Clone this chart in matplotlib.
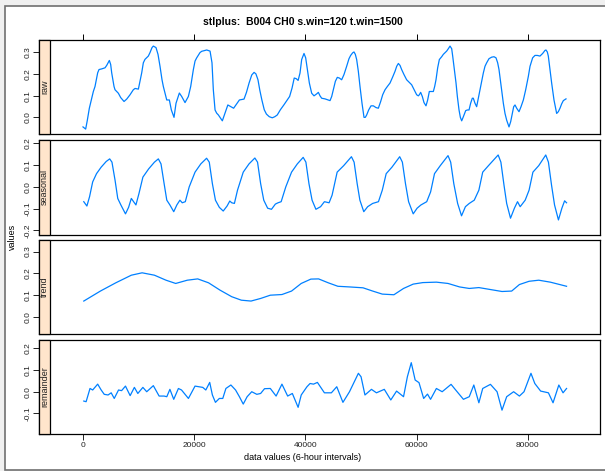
import matplotlib
matplotlib.use("Agg")
import matplotlib.pyplot as plt
from matplotlib.patches import Rectangle

plt.rcParams['font.family'] = ['Liberation Sans', 'DejaVu Sans']

# values (x in 6-hour intervals)
raw_x = [0, 480, 780, 1140, 1560, 1860, 2160, 2640, 2880, 3360, 3960, 4260, 4740, 4980, 5160,
         5580, 5760, 6360, 6780, 7380, 7860, 8460, 9050, 9360, 9960, 10560, 10850, 11150, 11750,
         12050, 12410, 12650, 13130, 13490, 13850, 14210, 14450, 15060, 15530, 15890, 16370,
         16730, 17330, 17750, 18350, 18950, 19370, 19850, 20150, 20450, 21040, 21350, 22250,
         22850, 23200, 23440, 23750, 24050, 24350, 25060, 26050, 27090, 28130, 28960, 29400,
         29870, 30350, 30770, 31100, 31470, 31800, 32170, 32600, 32990, 33500, 34040, 34500,
         34940, 35500, 36120, 36600, 37160, 37600, 37990, 38350, 38690,
         39030, 39330, 39750, 40050, 40350, 40710, 41130, 41550, 42030, 42330, 42630, 42930,
         43530, 44130, 44430, 44730, 45030, 45390, 45740, 46100, 46520, 46940, 47420, 47840,
         48140, 48500, 48740, 48980, 49220, 49520, 49820, 50180, 50540, 50780, 51020, 51380,
         51800, 52220, 52700, 53120, 53540, 53900, 54320, 54740, 55220, 55700, 56120, 56420,
         56720, 57020, 57310, 57730, 58210, 58690, 59110, 59410, 59710, 60010, 60310, 60490,
         60730, 61030, 61330, 61690, 61990, 62290, 62710, 63010, 63250, 63490, 63790, 64090,
         64510, 64810, 65410, 65710, 66010, 66310, 66490, 66790, 67090, 67330, 67630, 67870,
         68110, 68410, 68830, 69130, 69430, 69720, 70020, 70200, 70500, 70800, 71100, 71400,
         71700, 72000, 72300, 72600, 73020, 73500, 73920, 74280, 74580, 74820, 75060, 75300,
         75600, 75900, 76200, 76620, 76920, 77220, 77460, 77700, 78000, 78420, 78780, 79200,
         79620, 80100, 80400, 80870, 81290, 81710, 82190, 82670, 83090, 83270, 83510, 83690,
         83990, 84290, 84710, 85190, 85490, 85790, 86090, 86390, 86870]
raw_y = [-0.044, -0.054, -0.013, 0.042, 0.088, 0.119, 0.142, 0.205, 0.220, 0.223, 0.228, 0.239,
         0.262, 0.243, 0.205, 0.142, 0.127, 0.111, 0.091, 0.073, 0.084, 0.104, 0.127, 0.133,
         0.130, 0.205, 0.251, 0.267, 0.282, 0.298, 0.321, 0.328, 0.321, 0.290, 0.235, 0.173,
         0.142, 0.080, 0.080, 0.034, 0.000, 0.065, 0.112, 0.096, 0.068, 0.096, 0.142, 0.220,
         0.259, 0.274, 0.298, 0.304, 0.310, 0.305, 0.251, 0.127, 0.034, 0.019, 0.011, -0.016,
         0.057, 0.042, 0.080, 0.084, 0.115, 0.158, 0.195, 0.207, 0.200, 0.173, 0.125, 0.080,
         0.035, 0.015, 0.003, -0.002, 0.003, 0.011, 0.035, 0.057, 0.075, 0.096, 0.135, 0.181,
         0.178, 0.170,
         0.204, 0.266, 0.294, 0.274, 0.220, 0.158, 0.111, 0.099, 0.108, 0.115, 0.099, 0.088,
         0.085, 0.080, 0.077, 0.096, 0.127, 0.166, 0.184, 0.181, 0.173, 0.197, 0.235, 0.270,
         0.285, 0.297, 0.301, 0.290, 0.266, 0.212, 0.142, 0.065, 0.000, 0.000, 0.011, 0.034,
         0.053, 0.053, 0.045, 0.042, 0.073, 0.104, 0.127, 0.142, 0.158, 0.186, 0.212, 0.235,
         0.248, 0.239, 0.220, 0.197, 0.173, 0.161, 0.150, 0.135, 0.119, 0.104, 0.099, 0.104,
         0.115, 0.096, 0.068, 0.053, 0.080, 0.119, 0.119, 0.119, 0.142, 0.173, 0.228, 0.266,
         0.279, 0.290, 0.305, 0.316, 0.328, 0.316, 0.282, 0.220, 0.158, 0.096, 0.034, 0.000,
         -0.016, 0.003, 0.031, 0.034, 0.034, 0.065, 0.088, 0.088, 0.065, 0.049, 0.088, 0.127,
         0.166, 0.204, 0.235, 0.251, 0.270, 0.277, 0.279, 0.274, 0.251, 0.220, 0.173, 0.127,
         0.065, 0.018, -0.013, -0.044, -0.020, 0.018, 0.049, 0.057, 0.042, 0.026, 0.049, 0.080,
         0.127, 0.189, 0.235, 0.274, 0.285, 0.285, 0.282, 0.294, 0.308, 0.310, 0.301, 0.282,
         0.220, 0.158, 0.080, 0.018, 0.026, 0.042, 0.062, 0.077, 0.085]

seasonal_x = [140, 700, 1180, 1740, 2430, 3270, 4170, 4800, 5210, 5770, 6250, 6810, 7640, 8200,
              8690, 9100, 9520, 10070, 10770, 11810, 12850, 13550, 14030, 14590, 15070, 15630,
              16320, 16880, 17430, 17850, 18400, 19100, 20150, 21190, 22230, 22710, 23270,
              23820, 24520, 25220, 25910, 26400, 26750, 27230, 27790, 28820, 29860, 30910,
              31390, 31950, 32510, 33210, 33900, 34600, 35080, 35640, 36470, 37510, 38550,
              39600, 40090, 40640, 41200, 41890, 42730, 43420, 44260, 44800, 45710, 46890,
              48280, 48760, 49310, 49800, 50500, 51200, 52100, 53140, 53830, 54530, 55570,
              56960, 57440, 58000, 58560, 59390, 60090, 60780, 61820, 62520, 63220, 64260,
              65650, 66130, 66690, 67380, 68080, 68780, 69470, 70370, 71200, 71890, 72930,
              74670, 75160, 75720, 76200, 76890, 77590, 78150, 78630, 79530, 80230, 80920,
              81970, 83230, 83710, 84270, 84810, 85510, 86130, 86620, 86970]
seasonal_y = [-0.068, -0.088, -0.045, 0.023, 0.061, 0.091, 0.117, 0.129, 0.114, 0.030, -0.053,
              -0.083, -0.124, -0.094, -0.053, -0.068, -0.083, -0.030, 0.045, 0.083, 0.114,
              0.129, 0.106, 0.015, -0.061, -0.083, -0.114, -0.083, -0.061, -0.073, -0.068,
              0.000, 0.068, 0.106, 0.132, 0.114, 0.015, -0.061, -0.094, -0.111, -0.088, -0.065,
              -0.073, -0.076, -0.015, 0.068, 0.106, 0.133, 0.114, 0.015, -0.061, -0.098,
              -0.103, -0.079, -0.073, -0.068, 0.000, 0.068, 0.106, 0.136, 0.114, 0.015,
              -0.061, -0.103, -0.091, -0.068, -0.073, -0.038, 0.068, 0.098, 0.139, 0.114,
              0.015, -0.061, -0.114, -0.091, -0.076, -0.068, -0.015, 0.061, 0.091, 0.139,
              0.114, 0.015, -0.068, -0.124, -0.098, -0.083, -0.068, -0.023, 0.061, 0.098,
              0.144, 0.114, 0.015, -0.076, -0.133, -0.091, -0.076, -0.061, -0.015, 0.068,
              0.098, 0.147, 0.114, 0.008, -0.076, -0.144, -0.098, -0.068, -0.091, -0.061,
              -0.015, 0.068, 0.098, 0.147, 0.114, 0.008, -0.083, -0.152, -0.098, -0.064,
              -0.073]

trend_x = [140, 3130, 5900, 8690, 10630, 12850, 14930, 16670, 18760, 20630, 22580, 24660,
           26750, 28480, 30220, 31950, 33690, 35780, 37510, 39250, 40980, 42370, 44110, 45840,
           47930, 50360, 52100, 53830, 55920, 57650, 59390, 61130, 63560, 65650, 67730, 69470,
           71200, 73280, 75360, 77100, 78490, 80230, 81970, 84050, 86970]
trend_y = [0.072, 0.118, 0.156, 0.191, 0.202, 0.191, 0.168, 0.153, 0.168, 0.174, 0.156, 0.122,
           0.092, 0.076, 0.072, 0.084, 0.099, 0.102, 0.118, 0.153, 0.173, 0.174, 0.156, 0.140,
           0.137, 0.133, 0.118, 0.104, 0.101, 0.130, 0.150, 0.157, 0.159, 0.153, 0.137, 0.130,
           0.134, 0.125, 0.116, 0.118, 0.148, 0.163, 0.168, 0.159, 0.140]

remainder_x = [140, 560, 1260, 1740, 2640, 3270, 3820, 4510, 5070, 5620, 6390, 6940, 7640, 8480,
               9240, 9860, 10770, 11460, 12650, 13690, 14590, 15070, 15630, 16320, 17160,
               17720, 18960, 20150, 21540, 22090, 22790, 23270, 23820, 24520, 25140, 25700,
               26600, 27440, 28130, 28820, 29520, 30350, 31260, 31950, 32650, 33690, 34730,
               35780, 36810, 37650, 38690, 39250, 40280, 40840, 41460, 42160, 43420, 44670,
               45640, 46750, 47930, 49530, 50010, 50710, 51880, 52780, 54190, 55360, 56400,
               57650, 58340, 59040, 59740, 60430, 61270, 61960, 62510, 63560, 64600, 66200,
               67030, 68420, 69470, 70290, 71200, 71890, 73280, 74470, 75360, 76200, 77450,
               78490, 79320, 80570, 81260, 82310, 83710, 84540, 85580, 86340, 86970]
remainder_y = [-0.043, -0.046, 0.015, 0.008, 0.035, 0.008, -0.012, -0.015, -0.005, -0.031,
               0.008, 0.005, 0.026, -0.018, 0.020, -0.008, 0.020, 0.000, 0.028, -0.020, -0.020,
               -0.023, 0.011, -0.035, 0.015, 0.008, -0.031, 0.026, 0.020, 0.008, 0.043, -0.015,
               -0.049, -0.031, -0.031, 0.015, 0.031, 0.008, -0.023, -0.057, -0.023, 0.000,
               -0.012, -0.008, 0.014, 0.015, -0.020, 0.035, -0.020, -0.008, -0.072, -0.015,
               0.023, 0.038, 0.035, 0.043, -0.005, -0.005, 0.023, -0.049, 0.000, 0.085, 0.069,
               -0.015, 0.011, -0.005, 0.011, -0.038, 0.003, -0.023, 0.069, 0.134, 0.054, 0.042,
               -0.031, -0.011, -0.035, 0.015, 0.000, 0.034, 0.008, -0.035, -0.023, 0.031,
               -0.051, 0.015, 0.034, 0.000, -0.085, -0.023, 0.000, -0.020, 0.000, 0.085, 0.038,
               0.003, -0.005, -0.051, 0.031, -0.005, 0.015]

panel_names = ["raw", "seasonal", "trend", "remainder"]
panel_ylims = [(-0.078, 0.356), (-0.219, 0.215), (-0.081, 0.353), (-0.195, 0.240)]
panel_yticks = [[0.0, 0.1, 0.2, 0.3], [-0.2, -0.1, 0.0, 0.1, 0.2],
                [0.0, 0.1, 0.2, 0.3], [-0.1, 0.0, 0.1, 0.2]]
x_ticks = [0, 20000, 40000, 60000, 80000]
series = [(raw_x, raw_y), (seasonal_x, seasonal_y), (trend_x, trend_y), (remainder_x, remainder_y)]

W, H = 605, 471
fig = plt.figure(figsize=(W / 100, H / 100), dpi=100)
fig.patch.set_facecolor('#f0f0f0')
# white page with grey border, like the reference screenshot
fig.patches.append(Rectangle((4.5 / W, 1 - 470 / H), 1.2, (470 - 5.5) / H, transform=fig.transFigure,
                             facecolor='white', edgecolor='#707070', linewidth=1.2, zorder=-10))

left_px, right_px = 39, 600
panel_tops = [40, 140.2, 240, 339.7]
panel_h = 94.3
strip_w = 11 / (right_px - left_px)
xlim = ((left_px - 83) * 20000 / 111.2, (right_px - 83) * 20000 / 111.2)

for i, name in enumerate(panel_names):
    top = panel_tops[i]
    ax = fig.add_axes([left_px / W, 1 - (top + panel_h) / H, (right_px - left_px) / W, panel_h / H])
    ax.set_facecolor('white')
    xs, ys = series[i]
    ax.plot(xs, ys, color='#0080ff', linewidth=0.9)
    ax.set_xlim(*xlim)
    ax.set_ylim(*panel_ylims[i])
    ax.set_yticks(panel_yticks[i])
    ax.set_yticklabels(["%.1f" % v for v in panel_yticks[i]], rotation=90, va='center', fontsize=6)
    ax.tick_params(axis='y', length=4, width=0.7, pad=1.5, colors='#222222')
    for s in ax.spines.values():
        s.set_linewidth(0.9)
    # strip on the left
    ax.add_patch(Rectangle((0, 0), strip_w, 1, transform=ax.transAxes, facecolor='#ffe5cc',
                           edgecolor='black', linewidth=0.9, zorder=3, clip_on=False))
    ax.text(strip_w / 2, 0.5, name, transform=ax.transAxes, rotation=90, ha='center',
            va='center', fontsize=6.5, color='#222222', zorder=4)
    ax.set_xticks(x_ticks)
    if i == 0:
        ax.tick_params(axis='x', top=True, bottom=False, labeltop=False, labelbottom=False,
                       length=4, width=0.7)
    elif i == 3:
        ax.set_xticklabels([str(v) for v in x_ticks], fontsize=6)
        ax.tick_params(axis='x', length=4, width=0.7, pad=2, colors='#222222')
    else:
        ax.tick_params(axis='x', bottom=False, labelbottom=False)

fig.text(303 / W, 1 - 22 / H, "stlplus:  B004 CH0 s.win=120 t.win=1500", ha='center',
         va='center', fontsize=7.5, fontweight='bold')
fig.text(303 / W, 1 - 458 / H, "data values (6-hour intervals)", ha='center', va='center',
         fontsize=6.5)
fig.text(12 / W, 1 - 237 / H, "values", rotation=90, ha='center', va='center', fontsize=6.5)

fig.savefig("out.png", dpi=100, facecolor=fig.get_facecolor())
